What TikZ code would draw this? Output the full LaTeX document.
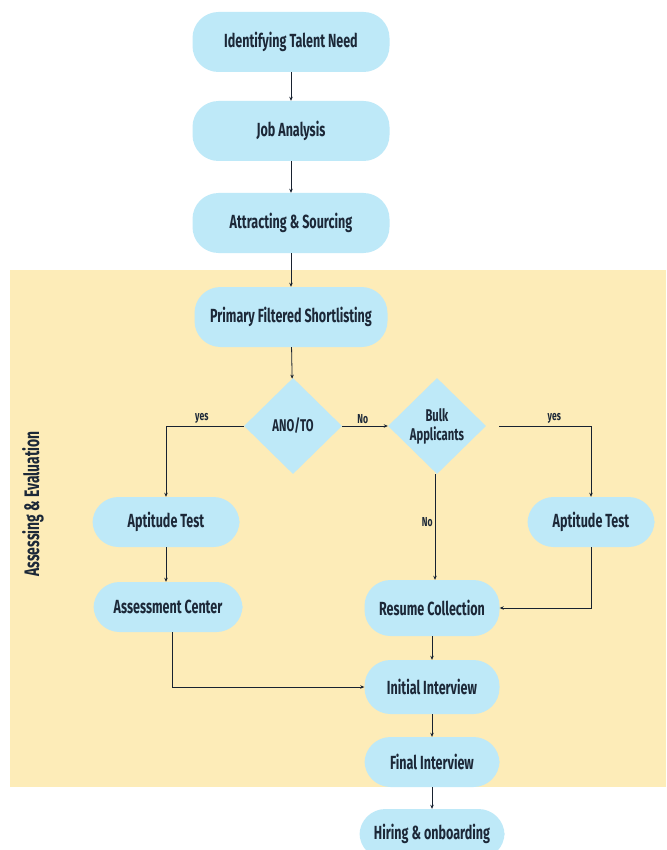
\documentclass[tikz,border=0pt]{standalone}
\usepackage{fontspec}
\setmainfont{Fira Sans}[FakeStretch=0.66]
\usetikzlibrary{shapes.geometric,arrows.meta}
\definecolor{band}{RGB}{253,236,184}
\definecolor{pillfill}{RGB}{190,233,248}
\definecolor{ink}{RGB}{28,40,56}
\tikzset{
  pill/.style={rectangle, rounded corners=26pt, fill=pillfill, text=ink, inner sep=0pt,
    font=\fontsize{19}{20}\selectfont\bfseries},
  choice/.style={diamond, aspect=1, fill=pillfill, text=ink, inner sep=0pt, align=center,
    minimum width=98pt, minimum height=96pt, font=\fontsize{17}{19}\selectfont\bfseries},
  link/.style={draw=ink!85!black, line width=0.8pt, -{Stealth[length=4pt,width=3.5pt]}},
  tag/.style={text=ink, font=\fontsize{13}{14}\selectfont\bfseries, inner sep=2pt},
  side/.style={text=ink, font=\fontsize{21}{23}\selectfont\bfseries, rotate=90}
}
\begin{document}
\begin{tikzpicture}[x=1pt,y=-1pt]
\clip (0,0) rectangle (666,850);
\fill[white] (0,0) rectangle (666,850);
\fill[band] (10,270) rectangle (666,787);
\node[side] (sidelab) at (33,504) {Assessing \& Evaluation};

\node[pill, minimum width=197pt, minimum height=60pt] (need) at (291,42) {Identifying Talent Need};
\node[pill, minimum width=197pt, minimum height=60pt] (job) at (291,131) {Job Analysis};
\node[pill, minimum width=197pt, minimum height=60pt] (attr) at (291,223) {Attracting \& Sourcing};
\node[pill, minimum width=193pt, minimum height=60pt] (prim) at (291,317) {Primary Filtered Shortlisting};
\node[choice] (ano) at (293,426) {ANO/TO};
\node[choice] (bulk) at (437,426) {Bulk\\Applicants};
\node[pill, minimum width=147pt, minimum height=50pt] (apt1) at (166,522) {Aptitude Test};
\node[pill, minimum width=127pt, minimum height=50pt] (apt2) at (591,522) {Aptitude Test};
\node[pill, minimum width=149pt, minimum height=50pt] (assess) at (168,607) {Assessment Center};
\node[pill, minimum width=135pt, minimum height=56pt] (resume) at (432,608) {Resume Collection};
\node[pill, minimum width=135pt, minimum height=54pt] (init) at (432,687) {Initial Interview};
\node[pill, minimum width=135pt, minimum height=50pt] (final) at (432,762) {Final Interview};
\node[pill, minimum width=145pt, minimum height=50pt] (hire) at (432,834) {Hiring \& onboarding};

\draw[link] (need) -- (job);
\draw[link] (job) -- (attr);
\draw[link] (attr) -- (prim);
\draw[link] (prim) -- (ano);
\draw[link] (ano.east) -- node[tag, above, pos=0.45] (nolab) {No} (bulk.west);
\draw[link] (ano.west) -| node[tag, above, pos=0.27] (yeslab1) {yes} (apt1.north);
\draw[link] (bulk.east) ++(13,0) coordinate (bstart) -| node[tag, above, pos=0.3] (yeslab2) {yes} (apt2.north);
\draw[link] ([xshift=-2pt]bulk.south) -- node[tag, left, pos=0.45] (nolab2) {No} ([xshift=-2pt]bulk.south |- resume.north);
\draw[link] (apt1) -- (assess.north -| apt1.south);
\draw[link] (apt2.south) |- (resume.east);
\draw[link] ([xshift=4pt]assess.south) |- (init.west);
\draw[link] (resume) -- (init);
\draw[link] (init) -- (final);
\draw[link] (final) -- (hire);
\end{tikzpicture}
\end{document}
